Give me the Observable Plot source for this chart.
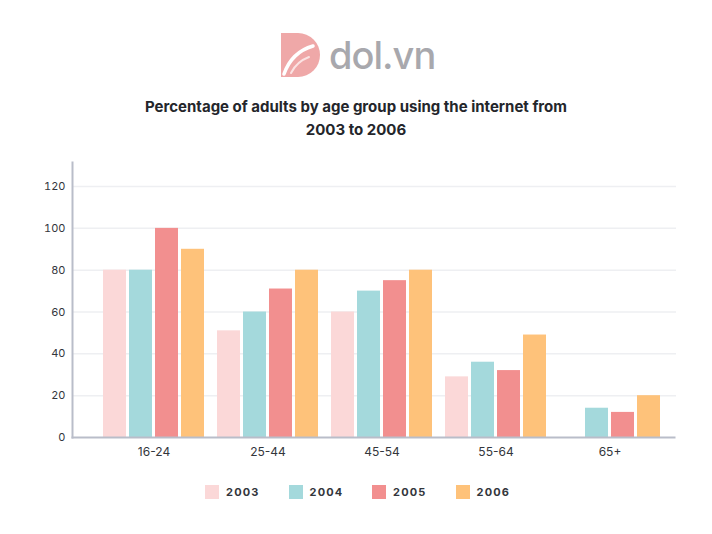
<!DOCTYPE html>
<html>
<head>
<meta charset="utf-8">
<script src="https://cdn.jsdelivr.net/npm/d3@7"></script>
<script src="https://cdn.jsdelivr.net/npm/@observablehq/plot@0.6"></script>
<style>
  html, body { margin: 0; padding: 0; background: #fff; }
  body { width: 712px; height: 534px; position: relative; overflow: hidden; font-family: Inter, "Noto Sans", sans-serif; }
  #logo { position: absolute; left: 279px; top: 32px; height: 46px; display: flex; align-items: center; }
  #logo span { font-family: Inter, sans-serif; font-weight: 500; font-size: 38px; color: #a8a8ad; margin-left: 8px; letter-spacing: -1px; line-height: 46px; }
  #title { position: absolute; left: 0; top: 95px; width: 712px; text-align: center; font-weight: 700; font-size: 15px; line-height: 23px; color: #24262b; }
  #grid, #chart, #axes { position: absolute; left: 0; top: 150px; }
  #legend { position: absolute; left: 205px; top: 485px; display: flex; }
  .item { display: flex; align-items: center; width: 83.5px; }
  .sw { width: 14px; height: 14px; margin-right: 7px; }
  .lab { font-weight: 700; font-size: 11px; letter-spacing: 1.2px; color: #33363c; }
</style>
</head>
<body>
<div id="logo">
  <svg width="42" height="46" viewBox="0 0 42 46">
    <path d="M2,1 H19 A22,22 0 0 1 19,45 H2 Z" fill="#efa8a8"/>
    <path d="M5,42 C10,28 20,18 34,14" fill="none" stroke="#fff" stroke-width="3.5" stroke-linecap="round"/>
    <path d="M12,41 C16,33 22,28 30,25" fill="none" stroke="#fbe3e3" stroke-width="2" stroke-linecap="round"/>
  </svg>
  <span>dol.vn</span>
</div>
<div id="title">Percentage of adults by age group using the internet from<br>2003 to 2006</div>
<div id="grid"></div>
<div id="chart"></div>
<div id="axes"></div>
<div id="legend"></div>
<script>
const groups = ["16-24", "25-44", "45-54", "55-64", "65+"];
const years = ["2003", "2004", "2005", "2006"];
const v2003 = [80, 51, 60, 29, null];
const v2004 = [80, 60, 70, 36, 14];
const v2005 = [100, 71, 75, 32, 12];
const v2006 = [90, 80, 80, 49, 20];
const yTicks = [0, 20, 40, 60, 80, 100, 120];
const colors = ["#fbd8d8", "#a4d9dc", "#f28f8f", "#fec27a"];

const series = [v2003, v2004, v2005, v2006];
const data = [];
groups.forEach((g, i) => years.forEach((y, j) => {
  if (series[j][i] != null) data.push({group: g, year: y, value: series[j][i]});
}));

const common = {
  width: 712,
  height: 320,
  marginLeft: 72,
  marginRight: 38,
  marginTop: 12,
  marginBottom: 33,
  style: {fontFamily: "Inter, sans-serif", color: "#33363c", background: "transparent"}
};

// background layer: gridlines and y tick labels
const grid = Plot.plot({
  ...common,
  y: {domain: [0, 131.5], axis: null},
  marks: [
    Plot.gridY(yTicks.filter(d => d > 0), {stroke: "#eeeff2", strokeOpacity: 1, strokeWidth: 1.5, insetRight: -2}),
    Plot.axisY(yTicks, {tickSize: 0, tickPadding: 7, label: null, fontSize: 11})
  ]
});
document.getElementById("grid").appendChild(grid);

// middle layer: grouped bars and group labels
const chart = Plot.plot({
  ...common,
  fx: {domain: groups, paddingInner: 0.114, paddingOuter: 0.197, align: 0.69},
  x: {domain: years, paddingInner: 0.1154, paddingOuter: 0, axis: null},
  y: {domain: [0, 131.5], axis: null},
  color: {domain: years, range: colors},
  marks: [
    Plot.barY(data, {fx: "group", x: "year", y: "value", fill: "year"}),
    Plot.axisFx({anchor: "bottom", tickSize: 0, tickPadding: 10, label: null, fontSize: 12, fill: "#33363c"})
  ]
});
document.getElementById("chart").appendChild(chart);

// top layer: axis lines
const axes = Plot.plot({
  ...common,
  y: {domain: [0, 131.5], axis: null},
  marks: [
    Plot.frame({anchor: "bottom", stroke: "#b9bdc9", strokeWidth: 2}),
    Plot.frame({anchor: "left", stroke: "#b9bdc9", strokeWidth: 2})
  ]
});
document.getElementById("axes").appendChild(axes);

const legend = document.getElementById("legend");
years.forEach((y, i) => {
  const it = document.createElement("div");
  it.className = "item";
  it.innerHTML = `<div class="sw" style="background:${colors[i]}"></div><div class="lab">${y}</div>`;
  legend.appendChild(it);
});
</script>
</body>
</html>
